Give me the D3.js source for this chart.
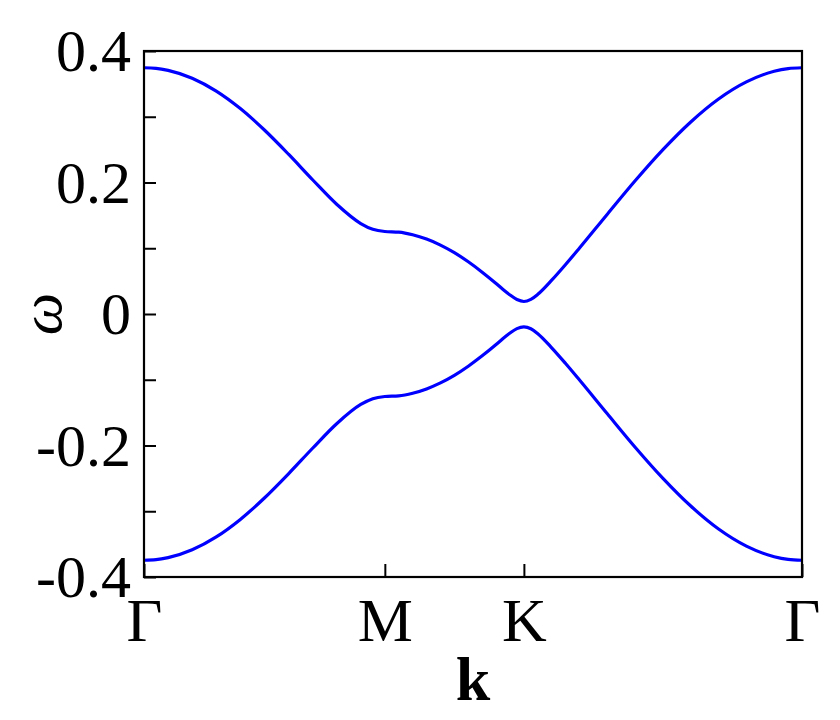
<!DOCTYPE html>
<html>
<head>
<meta charset="utf-8">
<script src="https://cdn.jsdelivr.net/npm/d3@7/dist/d3.min.js"></script>
<style>
  html, body { margin: 0; padding: 0; background: #fff; }
  svg { display: block; }
</style>
</head>
<body>
<svg id="chart" width="840" height="720"></svg>
<script>
// ---- data ----
// high-symmetry path positions (Γ, M, K, Γ)
const kTicks = [0, 0.866, 1.366, 2.366];
const kTickLabels = ["Γ", "M", "K", "Γ"];
const yTicks = [-0.4, -0.2, 0, 0.2, 0.4];
const yTickLabels = ["-0.4", "-0.2", "0", "0.2", "0.4"];
const yMinorTicks = [-0.3, -0.1, 0.1, 0.3];

// k positions of sampled points along the path
const kPoints = [
  0, 0.0433, 0.0866, 0.1732, 0.2598, 0.3464, 0.4330, 0.5196, 0.6062, 0.6928, 0.7794, 0.8227, 0.866,
  0.916, 0.966, 1.016, 1.066, 1.116, 1.166, 1.216, 1.266, 1.291, 1.316, 1.341, 1.366,
  1.391, 1.416, 1.466, 1.516, 1.566, 1.666, 1.766, 1.866, 1.966, 2.066, 2.166, 2.266, 2.316, 2.366
];
// upper band ω(k)
const upperBand = [
  0.3745, 0.3737, 0.3706, 0.3586, 0.3390, 0.3124, 0.2798, 0.2430, 0.2042, 0.1669, 0.1376, 0.1288, 0.1255,
  0.1245, 0.1205, 0.1139, 0.1048, 0.0933, 0.0794, 0.0636, 0.0464, 0.0373, 0.0290, 0.0220, 0.0190,
  0.0222, 0.0299, 0.0514, 0.0753, 0.1004, 0.1518, 0.2026, 0.2500, 0.2921, 0.3270, 0.3530, 0.3691, 0.3732, 0.3745
];
// lower band ω(k)
const lowerBand = [
  -0.3745, -0.3737, -0.3706, -0.3586, -0.3390, -0.3124, -0.2798, -0.2430, -0.2042, -0.1669, -0.1376, -0.1288, -0.1255,
  -0.1245, -0.1205, -0.1139, -0.1048, -0.0933, -0.0794, -0.0636, -0.0464, -0.0373, -0.0290, -0.0222, -0.0197,
  -0.0224, -0.0300, -0.0514, -0.0753, -0.1004, -0.1518, -0.2026, -0.2500, -0.2921, -0.3270, -0.3530, -0.3691, -0.3732, -0.3745
];

// ---- layout ----
const margin = {left: 144, top: 51, right: 38, bottom: 143};
const W = 840, H = 720;
const iw = W - margin.left - margin.right;
const ih = H - margin.top - margin.bottom;
const font = "'Liberation Serif', 'Times New Roman', serif";

const svg = d3.select("#chart");
const g = svg.append("g").attr("transform", `translate(${margin.left},${margin.top})`);

const x = d3.scaleLinear().domain([0, 2.366]).range([0, iw]);
const y = d3.scaleLinear().domain([-0.4, 0.4]).range([ih, 0]);

// clip
svg.append("defs").append("clipPath").attr("id", "clip")
  .append("rect").attr("width", iw).attr("height", ih);

// curves
const line = d3.line()
  .x((d, i) => x(kPoints[i]))
  .y(d => y(d))
  .curve(d3.curveMonotoneX);

const curves = g.append("g").attr("clip-path", "url(#clip)");
[upperBand, lowerBand].forEach(band => {
  curves.append("path")
    .datum(band)
    .attr("d", line)
    .attr("fill", "none")
    .attr("stroke", "#0000ff")
    .attr("stroke-width", 3.2);
});

// y axis (major)
const yAxis = d3.axisLeft(y)
  .tickValues(yTicks)
  .tickFormat((d, i) => yTickLabels[i])
  .tickSizeInner(-12)
  .tickSizeOuter(0)
  .tickPadding(13);
const yg = g.append("g").call(yAxis);
yg.select(".domain").remove();
yg.selectAll(".tick line").attr("stroke", "#000").attr("stroke-width", 2);
yg.selectAll(".tick text")
  .attr("font-family", font)
  .attr("font-size", 60)
  .attr("fill", "#000")
  .attr("dy", "0.33em");

// y axis (minor)
const yMinor = d3.axisLeft(y)
  .tickValues(yMinorTicks)
  .tickFormat("")
  .tickSizeInner(-12)
  .tickSizeOuter(0);
const ymg = g.append("g").call(yMinor);
ymg.select(".domain").remove();
ymg.selectAll(".tick line").attr("stroke", "#000").attr("stroke-width", 2);

// x axis
const xAxis = d3.axisBottom(x)
  .tickValues(kTicks)
  .tickFormat((d, i) => kTickLabels[i])
  .tickSizeInner(-13)
  .tickSizeOuter(0)
  .tickPadding(20);
const xg = g.append("g").attr("transform", `translate(0,${ih})`).call(xAxis);
xg.select(".domain").remove();
xg.selectAll(".tick line").attr("stroke", "#000").attr("stroke-width", 2);
xg.selectAll(".tick text")
  .attr("font-family", font)
  .attr("font-size", 62)
  .attr("fill", "#000");

// frame
g.append("rect")
  .attr("width", iw).attr("height", ih)
  .attr("fill", "none").attr("stroke", "#000").attr("stroke-width", 2.2);

// axis titles
svg.append("text")
  .attr("x", margin.left + iw / 2)
  .attr("y", 700)
  .attr("text-anchor", "middle")
  .attr("font-family", font)
  .attr("font-weight", "bold")
  .attr("font-size", 62)
  .text("k");

svg.append("text")
  .attr("transform", `translate(61,${y(0) + margin.top}) rotate(-90)`)
  .attr("text-anchor", "middle")
  .attr("font-family", font)
  .attr("font-style", "italic")
  .attr("font-size", 60)
  .text("ω");
</script>
</body>
</html>
